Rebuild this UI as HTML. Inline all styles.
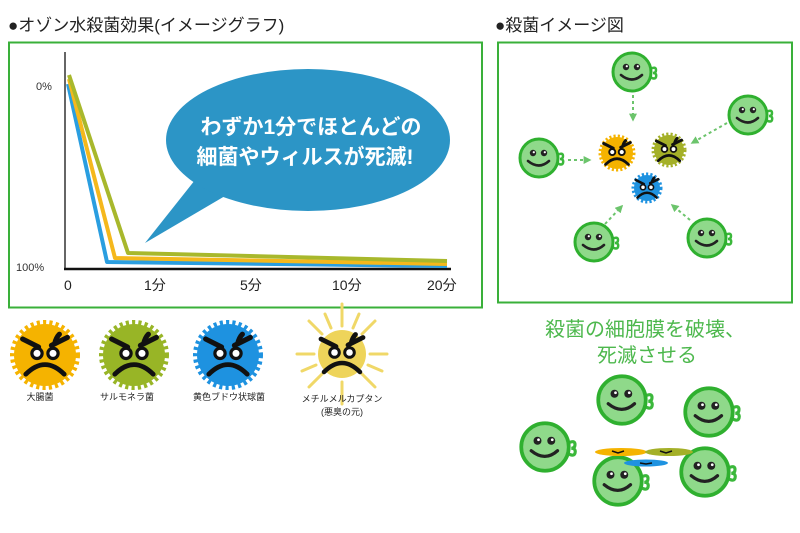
<!DOCTYPE html>
<html><head><meta charset="utf-8"><style>
html,body{margin:0;padding:0;background:#fff;width:800px;height:533px;overflow:hidden}
svg{display:block}
text{font-family:"Liberation Sans","Noto Sans CJK JP",sans-serif}
</style></head><body>
<svg width="800" height="533" viewBox="0 0 800 533" xmlns="http://www.w3.org/2000/svg">
<defs>
  <g id="smile">
    <path d="M18,-3 q6,-3 6,1 q0,3 -3,3 q4,0 3,4 q-1,3 -6,0" fill="none" stroke="#3bb83b" stroke-width="2.5"/>
    <circle r="19" fill="#8fd98a" stroke="#2fb02f" stroke-width="3"/>
    <circle cx="-6" cy="-5" r="3.2" fill="#222"/><circle cx="-5.2" cy="-5.8" r="1.1" fill="#fff"/>
    <circle cx="5" cy="-5" r="3.2" fill="#222"/><circle cx="5.8" cy="-5.8" r="1.1" fill="#fff"/>
    <path d="M-11,3 q11,9 21,0" fill="none" stroke="#222" stroke-width="2.6" stroke-linecap="round"/>
  </g>
  <g id="face">
    <path d="M-14,-10 l10,5 M14,-11 l-10,5 M6,-7 q1,-4 3,-6" stroke="#111" stroke-width="3.2" stroke-linecap="round" fill="none"/>
    <circle cx="-5" cy="-1" r="3.2" fill="#fff" stroke="#111" stroke-width="2"/>
    <circle cx="5" cy="-1" r="3.2" fill="#fff" stroke="#111" stroke-width="2"/>
    <path d="M-12,12 q12,-12 24,0" fill="none" stroke="#111" stroke-width="3" stroke-linecap="round"/>
  </g>
  <marker id="ah" viewBox="0 0 10 10" refX="8" refY="5" markerWidth="4" markerHeight="4" orient="auto"><path d="M0,0 L10,5 L0,10z" fill="#6cc46c"/></marker>
</defs>

<text x="8" y="31" font-size="17" fill="#222">●オゾン水殺菌効果(イメージグラフ)</text>
<text x="495" y="31" font-size="17" fill="#222">●殺菌イメージ図</text>

<rect x="9" y="42.5" width="473" height="265" fill="none" stroke="#3ab03a" stroke-width="2"/>
<line x1="65" y1="52" x2="65" y2="269" stroke="#333" stroke-width="1.5"/>
<line x1="64" y1="269" x2="451" y2="269" stroke="#111" stroke-width="2.5"/>
<text x="36" y="90" font-size="11" fill="#333">0%</text>
<text x="16" y="271" font-size="11" fill="#333">100%</text>
<g font-size="14" fill="#222">
<text x="64" y="290">0</text><text x="144" y="290">1分</text><text x="240" y="290">5分</text><text x="332" y="290">10分</text><text x="427" y="290">20分</text>
</g>
<g fill="none" stroke-width="4" stroke-linejoin="round">
<polyline points="68,84 107,262 447,266" stroke="#2a9ee0"/>
<polyline points="69,79 115,258 447,264" stroke="#f5b81c"/>
<polyline points="69,75 128,253 447,261" stroke="#a8b82c"/>
</g>
<path d="M195,180 L145,243 L225,196 Z" fill="#2c95c6"/>
<ellipse cx="308" cy="140" rx="142" ry="71" fill="#2c95c6"/>
<text x="311" y="134" font-size="21" fill="#fff" text-anchor="middle" font-weight="bold">わずか1分でほとんどの</text>
<text x="305" y="164" font-size="21" fill="#fff" text-anchor="middle" font-weight="bold">細菌やウィルスが死滅!</text>

<g transform="translate(45,355)"><circle r="31" fill="#f5b300" stroke="#f5b300" stroke-width="8" stroke-dasharray="3 3"/><g transform="scale(1.6)"><use href="#face"/></g></g>
<g transform="translate(134,355)"><circle r="31" fill="#98b526" stroke="#98b526" stroke-width="8" stroke-dasharray="3 3"/><g transform="scale(1.6)"><use href="#face"/></g></g>
<g transform="translate(228,355)"><circle r="31" fill="#1e92e0" stroke="#1e92e0" stroke-width="8" stroke-dasharray="3 3"/><g transform="scale(1.6)"><use href="#face"/></g></g>
<g transform="translate(342,354)">
  <g stroke="#f0d868" stroke-width="3" stroke-linecap="round">
    <line x1="0" y1="-28" x2="0" y2="-50"/><line x1="0" y1="28" x2="0" y2="50"/><line x1="-28" y1="0" x2="-45" y2="0"/><line x1="28" y1="0" x2="45" y2="0"/>
    <line x1="-20" y1="-20" x2="-33" y2="-33"/><line x1="20" y1="-20" x2="33" y2="-33"/><line x1="-20" y1="20" x2="-33" y2="33"/><line x1="20" y1="20" x2="33" y2="33"/>
    <line x1="-11" y1="-26" x2="-17" y2="-40"/><line x1="11" y1="-26" x2="17" y2="-40"/><line x1="-26" y1="11" x2="-40" y2="17"/><line x1="26" y1="11" x2="40" y2="17"/>
  </g>
  <circle r="24" fill="#eed45a"/><g transform="scale(1.5)"><use href="#face"/></g>
</g>
<g font-size="9" fill="#222" text-anchor="middle">
<text x="40" y="400">大腸菌</text><text x="127" y="400">サルモネラ菌</text><text x="229" y="400">黄色ブドウ状球菌</text>
<text x="342" y="402">メチルメルカプタン</text><text x="342" y="415">(悪臭の元)</text>
</g>

<rect x="498" y="42.5" width="294" height="260" fill="none" stroke="#3ab03a" stroke-width="2"/>
<g stroke="#6cc46c" stroke-width="2" stroke-dasharray="3 3" fill="none" marker-end="url(#ah)">
<line x1="633" y1="95" x2="633" y2="120"/>
<line x1="727" y1="123" x2="692" y2="143"/>
<line x1="568" y1="160" x2="590" y2="160"/>
<line x1="605" y1="224" x2="622" y2="206"/>
<line x1="690" y1="220" x2="672" y2="205"/>
</g>
<use href="#smile" x="632" y="72"/>
<use href="#smile" x="748" y="115"/>
<use href="#smile" x="539" y="158"/>
<use href="#smile" x="594" y="242"/>
<use href="#smile" x="707" y="238"/>
<g transform="translate(617,153)"><circle r="16" fill="#f5b300" stroke="#f5b300" stroke-width="5" stroke-dasharray="2 2"/><use href="#face" transform="scale(0.95)"/></g>
<g transform="translate(669,150)"><circle r="15" fill="#a4b028" stroke="#a4b028" stroke-width="5" stroke-dasharray="2 2"/><use href="#face" transform="scale(0.9)"/></g>
<g transform="translate(647,188)"><circle r="13" fill="#1e92e0" stroke="#1e92e0" stroke-width="5" stroke-dasharray="2 2"/><use href="#face" transform="scale(0.8)"/></g>

<text x="645" y="336" font-size="20" fill="#4db84d" text-anchor="middle">殺菌の細胞膜を破壊、</text>
<text x="647" y="362" font-size="20" fill="#4db84d" text-anchor="middle">死滅させる</text>

<g transform="translate(622,400) scale(1.25)"><use href="#smile"/></g>
<g transform="translate(709,412) scale(1.25)"><use href="#smile"/></g>
<g transform="translate(545,447) scale(1.25)"><use href="#smile"/></g>
<g transform="translate(618,481) scale(1.25)"><use href="#smile"/></g>
<g transform="translate(705,472) scale(1.25)"><use href="#smile"/></g>
<ellipse cx="621" cy="452" rx="26" ry="4" fill="#f5b300"/>
<ellipse cx="669" cy="452" rx="24" ry="4" fill="#a4b028"/>
<ellipse cx="646" cy="463" rx="22" ry="3.5" fill="#1e92e0"/>
<path d="M612,451 l6,2 l6,-2 M660,451 l6,2 l6,-2 M640,463 l6,1 l6,-1" stroke="#111" stroke-width="1.5" fill="none"/>
</svg>
</body></html>
